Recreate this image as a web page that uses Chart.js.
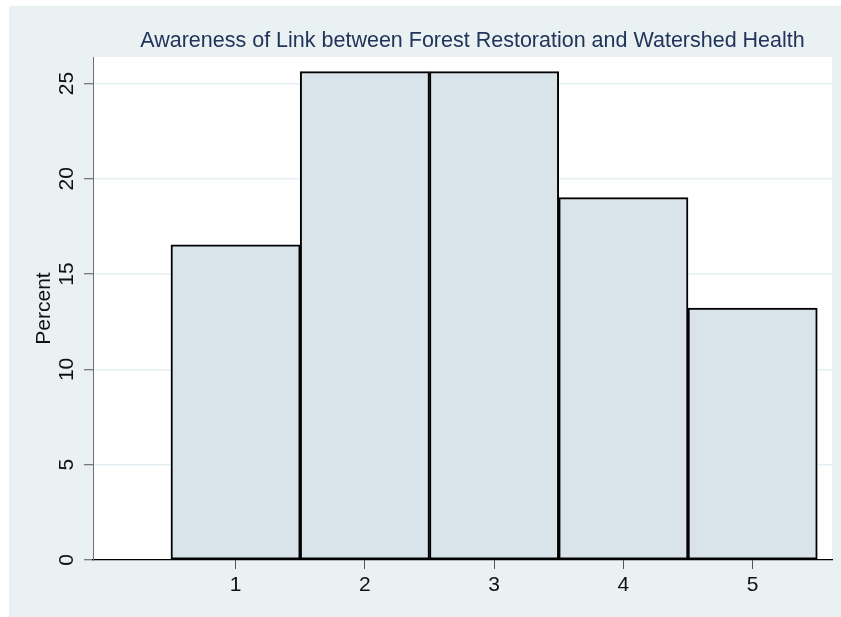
<!DOCTYPE html>
<html><head><meta charset="utf-8">
<script src="https://cdn.jsdelivr.net/npm/chart.js@4.4.0/dist/chart.umd.min.js"></script>
<style>html,body{margin:0;padding:0;background:#fff;overflow:hidden}
#wrap{position:absolute;left:0;top:0;width:841px;height:617px}</style>
</head><body><div id="wrap"><canvas id="c" width="841" height="617"></canvas></div>
<script>
const chartTitle = "Awareness of Link between Forest Restoration and Watershed Health";
const categories = [1, 2, 3, 4, 5];
const percentValues = [16.53, 25.62, 25.62, 19.01, 13.22];
const yTickValues = [0, 5, 10, 15, 20, 25];
const yAxisTitle = "Percent";

const FONT = "'Liberation Sans', Arial, sans-serif";

const bgPlugin = {
  id: 'bg',
  beforeDraw(chart) {
    const ctx = chart.ctx, a = chart.chartArea;
    ctx.save();
    ctx.fillStyle = '#ffffff';
    ctx.fillRect(0, 0, chart.width, chart.height);
    ctx.fillStyle = '#e9f1f3';
    ctx.fillRect(9, 6, chart.width - 9, chart.height - 6);
    ctx.fillStyle = '#ffffff';
    ctx.fillRect(a.left, a.top, a.right - a.left, a.bottom - a.top);
    ctx.restore();
  }
};
const titlePlugin = {
  id: 'stataTitle',
  afterDraw(chart) {
    const ctx = chart.ctx;
    ctx.save();
    ctx.font = "21.5px " + FONT;
    ctx.fillStyle = '#23345a';
    ctx.textAlign = 'center';
    ctx.textBaseline = 'alphabetic';
    ctx.fillText(chartTitle, 472.5, 46.5);
    ctx.restore();
  }
};

new Chart(document.getElementById('c'), {
  type: 'bar',
  data: {
    datasets: [{
      data: categories.map((c, i) => ({ x: c, y: percentValues[i] })),
      backgroundColor: '#d8e4ea',
      borderColor: '#000000',
      borderWidth: 2,
      borderSkipped: false,
      barPercentage: 1,
      categoryPercentage: 1
    }]
  },
  options: {
    responsive: false,
    animation: false,
    devicePixelRatio: 1,
    layout: { padding: { top: 57, right: 9, left: 0, bottom: 0 } },
    plugins: { legend: { display: false }, tooltip: { enabled: false }, title: { display: false } },
    scales: {
      x: {
        type: 'linear',
        min: -0.103,
        max: 5.614,
        offset: false,
        afterBuildTicks: s => { s.ticks = categories.map(v => ({ value: v })); },
        afterFit: s => { s.height = 57; },
        border: { display: true, color: '#000000', width: 1.2 },
        grid: { offset: false, drawOnChartArea: false, drawTicks: true, tickColor: '#555555', tickLength: 9, tickWidth: 1 },
        ticks: { padding: 4, color: '#111111', autoSkip: false, minRotation: 0, maxRotation: 0, font: { family: FONT, size: 21 } }
      },
      y: {
        type: 'linear',
        min: 0,
        max: 26.39,
        afterBuildTicks: s => { s.ticks = yTickValues.map(v => ({ value: v })); },
        afterFit: s => { s.width = 93; },
        border: { display: true, color: '#707070', width: 1 },
        grid: {
          color: ctx => (ctx.tick && ctx.tick.value === 0) ? 'rgba(0,0,0,0)' : '#e6eff3',
          lineWidth: 1.5,
          drawTicks: true,
          tickColor: '#555555',
          tickLength: 9,
          tickWidth: 1
        },
        ticks: { minRotation: 90, maxRotation: 90, crossAlign: 'center', padding: 5, color: '#111111', font: { family: FONT, size: 21 } },
        title: { display: true, text: yAxisTitle, color: '#111111', font: { family: FONT, size: 21 }, padding: { top: 32, bottom: 0 } }
      }
    }
  },
  plugins: [bgPlugin, titlePlugin]
});
</script>
</body></html>
